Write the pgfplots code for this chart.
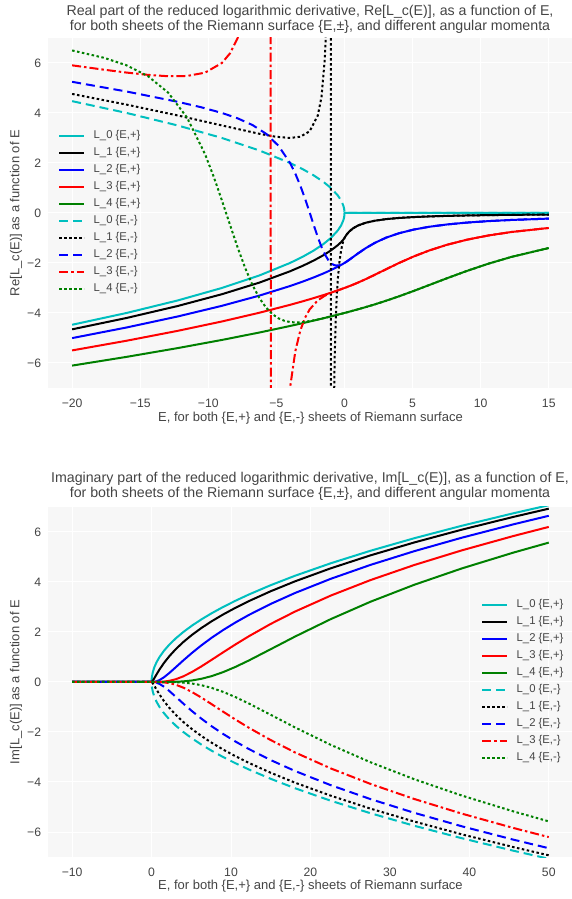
\documentclass[border=0pt]{standalone}
\usepackage{fontspec}
\setmainfont{Liberation Sans}
\usepackage{pgfplots}
\pgfplotsset{compat=1.18}
\definecolor{mycyan}{rgb}{0,0.75,0.75}
\definecolor{mygreen}{rgb}{0,0.5,0}
\definecolor{txt}{HTML}{444444}
\definecolor{plotbg}{HTML}{F7F7F7}
\tikzset{
  dashedS/.style={dash pattern=on 9pt off 5pt},
  dottedS/.style={dash pattern=on 2.5pt off 2.5pt},
  dashdotS/.style={dash pattern=on 9pt off 3pt on 2.5pt off 3pt},
}
\pgfplotsset{
  myaxis/.style={
    scale only axis, width=524.3pt, height=350pt,
    axis background/.style={fill=plotbg},
    grid=major, major grid style={white, line width=1pt},
    axis line style={draw=none},
    major tick length=0pt,
    tick label style={font=\fontsize{12.2}{14}\selectfont, text=txt},
    xticklabel style={anchor=center, yshift=-15pt},
    yticklabel style={anchor=east, inner sep=0pt, xshift=-7pt},
    label style={font=\fontsize{13}{15}\selectfont, text=txt},
    ymin=-7, ymax=7, ytick={-6,-4,...,6},
    yticklabels={−6,−4,−2,0,2,4,6},
    legend cell align=left,
    legend image code/.code={\draw[#1] (0pt,0pt) -- (25pt,0pt);},
    legend style={draw=none, fill=none, inner sep=0pt, row sep=6pt,
      font=\fontsize{11.3}{13}\selectfont, text=txt,
      nodes={inner sep=0pt, text height=8pt, text depth=3pt},
      /tikz/every odd column/.append style={column sep=8.5pt}},
    every axis plot/.append style={line width=2pt},
  }
}
\begin{document}
\begin{tikzpicture}
\path[use as bounding box] (0pt,0pt) rectangle (571pt,899pt);
% ---------------- TOP: real part ----------------
\begin{axis}[myaxis, at={(48.3pt,511pt)}, anchor=south west,
  xmin=-21.75, xmax=16.75, xtick={-20,-15,...,15},
  xticklabels={−20,−15,−10,−5,0,5,10,15},
  xlabel={E, for both \{E,+\} and \{E,-\} sheets of Riemann surface},
  ylabel={Re[L\_c(E)] as a function of E},
  xlabel style={at={(axis description cs:0.5,-0.0857)}, anchor=center},
  ylabel style={at={(axis description cs:-0.0616,0.5)}, anchor=center},
  legend style={at={(0.0185,0.7357)}, anchor=north west}]
% L0 +
\addplot[mycyan] coordinates {(-20,-4.47214)(-16,-4)(-12.25,-3.5)(-9,-3)(-6.25,-2.5)(-4,-2)(-3.0625,-1.75)(-2.25,-1.5)(-1.5625,-1.25)(-1,-1)(-0.49,-0.7)(-0.25,-0.5)(-0.09,-0.3)(-0.04,-0.2)(-0.01,-0.1)(-0.0025,-0.05)(0,0)(15,0)};
\addlegendentry{L\_0 \{E,+\}}
% L1 +
\addplot[black] coordinates {(-20,-4.65488)(-16,-4.2)(-12.25,-3.72222)(-9,-3.25)(-6.25,-2.78571)(-4,-2.33333)(-3.0625,-2.11364)(-2.25,-1.9)(-1.5625,-1.69444)(-1,-1.5)(-0.49,-1.28824)(-0.25,-1.16667)(-0.09,-1.06923)(-0.04,-1.03333)(-0.01,-1.00909)(0,-1)
(0.04,-0.96154)(0.16,-0.86207)(0.36,-0.73529)(0.64,-0.60976)(1,-0.5)(1.5625,-0.39024)(2.25,-0.30769)(3.0625,-0.24615)(4,-0.2)(5.0625,-0.16495)(6.25,-0.13793)(7.5625,-0.11679)(9,-0.1)(10.5625,-0.08649)(12.25,-0.07547)(15,-0.0625)};
\addlegendentry{L\_1 \{E,+\}}
% L2 +
\addplot[blue] coordinates {(-20,-5.00532)(-16,-4.58065)(-12.25,-4.14078)(-9,-3.71429)(-6.25,-3.30597)(-4,-2.92308)(-3.0625,-2.74448)(-2.25,-2.57692)(-1.5625,-2.42293)(-1,-2.28571)(-0.49,-2.14902)(-0.25,-2.07895)(-0.09,-2.02932)(-0.04,-2.01319)(-0.01,-2.00332)(0,-2)
(0.04,-1.98649)(0.16,-1.94412)(0.36,-1.86883)(0.64,-1.75822)(1,-1.61538)(1.5625,-1.40663)(2.25,-1.18919)(3.0625,-0.98626)(4,-0.81081)(5.0625,-0.66620)(6.25,-0.55005)(7.5625,-0.45779)(9,-0.38462)(10.5625,-0.32635)(12.25,-0.27960)(15,-0.22581)};
\addlegendentry{L\_2 \{E,+\}}
% L3 +
\addplot[red] coordinates {(-20,-5.49834)(-16,-5.11064)(-12.25,-4.71550)(-9,-4.34043)(-6.25,-3.99112)(-4,-3.67532)(-3.0625,-3.53312)(-2.25,-3.40345)(-1.5625,-3.28813)(-1,-3.18919)(-0.49,-3.09516)(-0.25,-3.04922)(-0.09,-3.01790)(-0.04,-3.00798)(-0.01,-3.0020)(0,-3)
(0.04,-2.99198)(0.16,-2.96764)(0.36,-2.92606)(0.64,-2.86550)(1,-2.78339)(1.5625,-2.64608)(2.25,-2.46695)(3.0625,-2.24850)(4,-2.00177)(5.0625,-1.74432)(6.25,-1.49465)(7.5625,-1.26682)(9,-1.06829)(10.5625,-0.90067)(12.25,-0.76186)(15,-0.6)};
\addlegendentry{L\_3 \{E,+\}}
% L4 +
\addplot[mygreen] coordinates {(-20,-6.10563)(-16,-5.75619)(-12.25,-5.40553)(-9,-5.07908)(-6.25,-4.78212)(-4,-4.52115)(-3.0625,-4.40654)(-2.25,-4.30391)(-1.5625,-4.21439)(-1,-4.13910)(-0.49,-4.06906)(-0.25,-4.03547)(-0.09,-4.01282)(-0.04,-4.00571)(-0.01,-4.00143)(0,-4)
(0.04,-3.99428)(0.16,-3.97704)(0.36,-3.94802)(0.64,-3.90678)(1,-3.85258)(1.5625,-3.76490)(2.25,-3.65210)(3.0625,-3.51004)(4,-3.33448)(5.0625,-3.12287)(6.25,-2.87682)(7.5625,-2.60373)(9,-2.31635)(10.5625,-2.02998)(12.25,-1.75867)(15,-1.40211)};
\addlegendentry{L\_4 \{E,+\}}
% L0 -
\addplot[mycyan, dashedS] coordinates {(-20,4.47214)(-16,4)(-12.25,3.5)(-9,3)(-6.25,2.5)(-4,2)(-3.0625,1.75)(-2.25,1.5)(-1.5625,1.25)(-1,1)(-0.49,0.7)(-0.25,0.5)(-0.09,0.3)(-0.04,0.2)(-0.01,0.1)(-0.0025,0.05)(0,0)(15,0)};
\addlegendentry{L\_0 \{E,-\}}
% L1 -
\addplot[black, dottedS] coordinates {(-20,4.7604)(-16,4.33333)(-12.25,3.9)(-9,3.5)(-6.25,3.16667)(-5.0625,3.05)(-4,3)(-3.24,3.05)(-2.56,3.26667)(-1.96,3.9)(-1.69,4.63333)(-1.44,6.2)(-1.3225,7.81667)(-1.21,11.1)(-1.1025,21.05)(-1.0404,51.02)(-1.0201,101.01)
(-0.9801,-99.01)(-0.9025,-19.05)(-0.81,-9.1)(-0.7225,-5.81667)(-0.64,-4.2)(-0.5625,-3.25)(-0.49,-2.63333)(-0.36,-1.9)(-0.25,-1.5)(-0.16,-1.26667)(-0.09,-1.12857)(-0.04,-1.05)(-0.01,-1.01111)(0,-1)
(0.04,-0.96154)(0.16,-0.86207)(0.36,-0.73529)(0.64,-0.60976)(1,-0.5)(1.5625,-0.39024)(2.25,-0.30769)(3.0625,-0.24615)(4,-0.2)(5.0625,-0.16495)(6.25,-0.13793)(7.5625,-0.11679)(9,-0.1)(10.5625,-0.08649)(12.25,-0.07547)(15,-0.0625)};
\addlegendentry{L\_1 \{E,-\}}
% L2 -
\addplot[blue, dashedS] coordinates {(-20,5.24600)(-16,4.85714)(-12.25,4.44737)(-10.5625,4.23361)(-9,4)(-7.84,3.78361)(-6.76,3.51837)(-5.76,3.16923)(-4.84,2.68387)(-4,2)(-3.61,1.57033)(-3.24,1.08571)(-2.89,0.56076)(-2.56,0.02105)(-2.25,-0.5)(-1.96,-0.96842)(-1.69,-1.35823)(-1.44,-1.65714)(-1.21,-1.86703)(-1,-2)(-0.81,-2.07297)(-0.64,-2.10323)(-0.36,-2.09231)(-0.16,-2.04898)(-0.04,-2.01311)(0,-2)
(0.04,-1.98649)(0.16,-1.94412)(0.36,-1.86883)(0.64,-1.75822)(1,-1.61538)(1.5625,-1.40663)(2.25,-1.18919)(3.0625,-0.98626)(4,-0.81081)(5.0625,-0.66620)(6.25,-0.55005)(7.5625,-0.45779)(9,-0.38462)(10.5625,-0.32635)(12.25,-0.27960)(15,-0.22581)};
\addlegendentry{L\_2 \{E,-\}}
% L3 -
\addplot[red, dashdotS] coordinates {(-20,5.90474)(-17.64,5.72880)(-16,5.61538)(-14.44,5.52400)(-12.96,5.46930)(-11.56,5.47941)(-10.24,5.61220)(-9,6)(-8.41,6.38292)(-7.84,7.00502)(-7.29,8.06383)(-6.76,10.04094)(-6.25,14.5)(-5.76,31.04)(-5.5225,84.56)
(-5.29,-103.73)(-4.84,-18.31)(-4.41,-10.003)(-4.2025,-8.20445)(-4,-7)(-3.61,-5.52506)(-3.24,-4.69254)(-2.89,-4.18480)(-2.56,-3.85936)(-1.96,-3.49390)(-1.44,-3.30920)(-1,-3.2)(-0.64,-3.12541)(-0.36,-3.07070)(-0.16,-3.03169)(-0.04,-3.00798)(0,-3)
(0.04,-2.99198)(0.16,-2.96764)(0.36,-2.92606)(0.64,-2.86550)(1,-2.78339)(1.5625,-2.64608)(2.25,-2.46695)(3.0625,-2.24850)(4,-2.00177)(5.0625,-1.74432)(6.25,-1.49465)(7.5625,-1.26682)(9,-1.06829)(10.5625,-0.90067)(12.25,-0.76186)(15,-0.6)};
\addlegendentry{L\_3 \{E,-\}}
% L4 -
\addplot[mygreen, dottedS] coordinates {(-20,6.50014)(-17.64,6.20359)(-16,5.90476)(-14.44,5.47506)(-12.96,4.82052)(-11.56,3.81394)(-10.24,2.35157)(-9.61,1.45891)(-9,0.5)(-8.41,-0.47071)(-7.84,-1.39103)(-7.29,-2.20612)(-6.76,-2.88097)(-6.25,-3.40476)(-5.76,-3.78695)(-5.29,-4.04911)(-4.84,-4.21695)(-4.41,-4.31493)(-4,-4.36364)(-3.61,-4.379)(-3.24,-4.37273)(-2.56,-4.32573)(-1.96,-4.26155)(-1.44,-4.19701)(-1,-4.13889)(-0.64,-4.08982)(-0.36,-4.05092)(-0.16,-4.02275)(-0.04,-4.00571)(0,-4)
(0.04,-3.99428)(0.16,-3.97704)(0.36,-3.94802)(0.64,-3.90678)(1,-3.85258)(1.5625,-3.76490)(2.25,-3.65210)(3.0625,-3.51004)(4,-3.33448)(5.0625,-3.12287)(6.25,-2.87682)(7.5625,-2.60373)(9,-2.31635)(10.5625,-2.02998)(12.25,-1.75867)(15,-1.40211)};
\addlegendentry{L\_4 \{E,-\}}
\end{axis}
\node[align=center, font=\fontsize{14.2}{15}\selectfont, text=txt] at (310pt,879.5pt)
  {Real part of the reduced logarithmic derivative, Re[L\_c(E)], as a function of E,\\for both sheets of the Riemann surface \{E,±\}, and different angular momenta};
% ---------------- BOTTOM: imaginary part ----------------
\begin{axis}[myaxis, at={(48.3pt,42pt)}, anchor=south west,
  xmin=-13, xmax=53, xtick={-10,0,...,50},
  xticklabels={−10,0,10,20,30,40,50},
  xlabel={E, for both \{E,+\} and \{E,-\} sheets of Riemann surface},
  ylabel={Im[L\_c(E)] as a function of E},
  xlabel style={at={(axis description cs:0.5,-0.0829)}, anchor=center},
  ylabel style={at={(axis description cs:-0.0616,0.5)}, anchor=center},
  legend style={at={(0.8253,0.7357)}, anchor=north west}]
\addplot[mycyan] coordinates {(-10,0)(0,0)(0.0025,0.05)(0.01,0.1)(0.04,0.2)(0.16,0.4)(0.36,0.6)(0.64,0.8)(1,1)(1.5625,1.25)(2.25,1.5)(3.0625,1.75)(4,2)(5.0625,2.25)(6.25,2.5)(7.5625,2.75)(9,3)(10.5625,3.25)(12.25,3.5)(15,3.87298)(18.0625,4.25)(22.5625,4.75)(27.5625,5.25)(33.0625,5.75)(39.0625,6.25)(45.5625,6.75)(50,7.07107)};
\addlegendentry{L\_0 \{E,+\}}
\addplot[black] coordinates {(-10,0)(0,0)(0.04,0.00769)(0.16,0.05517)(0.36,0.15882)(0.64,0.31220)(1,0.5)(1.5625,0.76220)(2.25,1.03846)(3.0625,1.31923)(4,1.6)(5.0625,1.87887)(6.25,2.15517)(7.5625,2.42883)(9,2.7)(10.5625,2.96892)(12.25,3.23585)(15,3.63092)(18.0625,4.02705)(22.5625,4.54841)(27.5625,5.06619)(33.0625,5.58119)(39.0625,6.09399)(45.5625,6.60503)(50,6.93242)};
\addlegendentry{L\_1 \{E,+\}}
\addplot[blue] coordinates {(-10,0)(0,0)(0.16,0.00108)(0.36,0.00762)(0.64,0.02892)(1,0.07692)(1.5625,0.18921)(2.25,0.36487)(3.0625,0.59540)(4,0.86487)(5.0625,1.15755)(6.25,1.46165)(7.5625,1.76956)(9,2.07692)(10.5625,2.38149)(12.25,2.68225)(15,3.12337)(18.0625,3.56043)(22.5625,4.12812)(27.5625,4.68461)(33.0625,5.23216)(39.0625,5.77261)(45.5625,6.30736)(50,6.64824)};
\addlegendentry{L\_2 \{E,+\}}
\addplot[red] coordinates {(-10,0)(0,0)(0.64,0.00082)(1,0.00361)(1.5625,0.01520)(2.25,0.04643)(3.0625,0.11225)(4,0.22655)(5.0625,0.39646)(6.25,0.61979)(7.5625,0.88697)(9,1.18537)(10.5625,1.50301)(12.25,1.83048)(15,2.32379)(18.0625,2.81776)(22.5625,3.45728)(27.5625,4.07715)(33.0625,4.67911)(39.0625,5.26598)(45.5625,5.84040)(50,6.20378)};
\addlegendentry{L\_3 \{E,+\}}
\addplot[mygreen] coordinates {(-10,0)(0,0)(1,0.00008)(1.5625,0.00054)(2.25,0.00250)(3.0625,0.00880)(4,0.02512)(5.0625,0.06054)(6.25,0.12669)(7.5625,0.23514)(9,0.39377)(10.5625,0.60419)(12.25,0.86158)(15,1.31238)(18.0625,1.81758)(22.5625,2.51580)(27.5625,3.21133)(33.0625,3.88843)(39.0625,4.54336)(45.5625,5.17749)(50,5.57494)};
\addlegendentry{L\_4 \{E,+\}}
\addplot[mycyan, dashedS] coordinates {(-10,0)(0,0)(0.0025,-0.05)(0.01,-0.1)(0.04,-0.2)(0.16,-0.4)(0.36,-0.6)(0.64,-0.8)(1,-1)(1.5625,-1.25)(2.25,-1.5)(3.0625,-1.75)(4,-2)(5.0625,-2.25)(6.25,-2.5)(7.5625,-2.75)(9,-3)(10.5625,-3.25)(12.25,-3.5)(15,-3.87298)(18.0625,-4.25)(22.5625,-4.75)(27.5625,-5.25)(33.0625,-5.75)(39.0625,-6.25)(45.5625,-6.75)(50,-7.07107)};
\addlegendentry{L\_0 \{E,-\}}
\addplot[black, dottedS] coordinates {(-10,0)(0,0)(0.04,-0.00769)(0.16,-0.05517)(0.36,-0.15882)(0.64,-0.31220)(1,-0.5)(1.5625,-0.76220)(2.25,-1.03846)(3.0625,-1.31923)(4,-1.6)(5.0625,-1.87887)(6.25,-2.15517)(7.5625,-2.42883)(9,-2.7)(10.5625,-2.96892)(12.25,-3.23585)(15,-3.63092)(18.0625,-4.02705)(22.5625,-4.54841)(27.5625,-5.06619)(33.0625,-5.58119)(39.0625,-6.09399)(45.5625,-6.60503)(50,-6.93242)};
\addlegendentry{L\_1 \{E,-\}}
\addplot[blue, dashedS] coordinates {(-10,0)(0,0)(0.16,-0.00108)(0.36,-0.00762)(0.64,-0.02892)(1,-0.07692)(1.5625,-0.18921)(2.25,-0.36487)(3.0625,-0.59540)(4,-0.86487)(5.0625,-1.15755)(6.25,-1.46165)(7.5625,-1.76956)(9,-2.07692)(10.5625,-2.38149)(12.25,-2.68225)(15,-3.12337)(18.0625,-3.56043)(22.5625,-4.12812)(27.5625,-4.68461)(33.0625,-5.23216)(39.0625,-5.77261)(45.5625,-6.30736)(50,-6.64824)};
\addlegendentry{L\_2 \{E,-\}}
\addplot[red, dashdotS] coordinates {(-10,0)(0,0)(0.64,-0.00082)(1,-0.00361)(1.5625,-0.01520)(2.25,-0.04643)(3.0625,-0.11225)(4,-0.22655)(5.0625,-0.39646)(6.25,-0.61979)(7.5625,-0.88697)(9,-1.18537)(10.5625,-1.50301)(12.25,-1.83048)(15,-2.32379)(18.0625,-2.81776)(22.5625,-3.45728)(27.5625,-4.07715)(33.0625,-4.67911)(39.0625,-5.26598)(45.5625,-5.84040)(50,-6.20378)};
\addlegendentry{L\_3 \{E,-\}}
\addplot[mygreen, dottedS] coordinates {(-10,0)(0,0)(1,-0.00008)(1.5625,-0.00054)(2.25,-0.00250)(3.0625,-0.00880)(4,-0.02512)(5.0625,-0.06054)(6.25,-0.12669)(7.5625,-0.23514)(9,-0.39377)(10.5625,-0.60419)(12.25,-0.86158)(15,-1.31238)(18.0625,-1.81758)(22.5625,-2.51580)(27.5625,-3.21133)(33.0625,-3.88843)(39.0625,-4.54336)(45.5625,-5.17749)(50,-5.57494)};
\addlegendentry{L\_4 \{E,-\}}
\end{axis}
\node[align=center, font=\fontsize{14.2}{15}\selectfont, text=txt] at (310pt,412.5pt)
  {Imaginary part of the reduced logarithmic derivative, Im[L\_c(E)], as a function of E,\\for both sheets of the Riemann surface \{E,±\}, and different angular momenta};
\end{tikzpicture}
\end{document}
